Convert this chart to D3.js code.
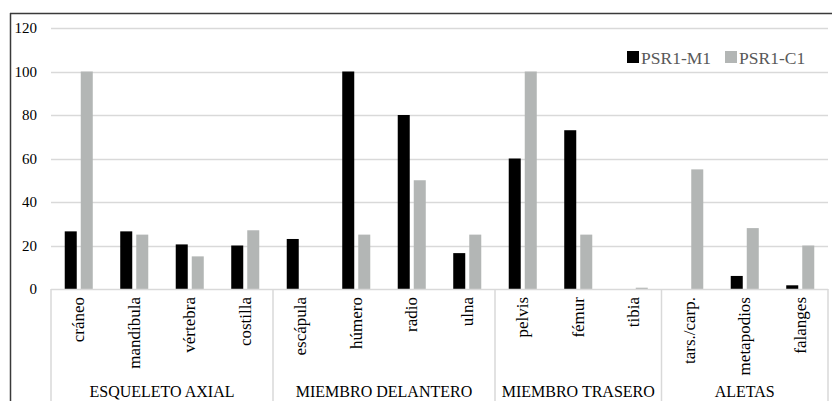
<!DOCTYPE html>
<html><head><meta charset="utf-8">
<script src="https://cdn.jsdelivr.net/npm/d3@7/dist/d3.min.js"></script>
<style>body{margin:0;background:#fff;} svg{display:block;} svg text{font-family:'Liberation Serif','Times New Roman',serif !important;}</style>
</head><body><svg id="c" width="832" height="401"></svg>
<script>
const categories = ["cráneo","mandíbula","vértebra","costilla","escápula","húmero","radio","ulna","pelvis","fémur","tibia","tars./carp.","metapodios","falanges"];
const groups = [
  {name:"ESQUELETO AXIAL", from:0, to:3},
  {name:"MIEMBRO DELANTERO", from:4, to:7},
  {name:"MIEMBRO TRASERO", from:8, to:10},
  {name:"ALETAS", from:11, to:13}
];
const seriesNames = ["PSR1-M1","PSR1-C1"];
const seriesColors = ["#000000","#b3b6b5"];
const valuesM1 = [26.5, 26.5, 20.5, 20, 23, 100, 80, 16.5, 60, 73, 0, 0, 6, 1.7];
const valuesC1 = [100, 25, 15, 27, 0, 25, 50, 25, 100, 25, 0.6, 55, 28, 20];
const yTicks = [0,20,40,60,80,100,120];

const FONT = "Liberation Serif";
const svg = d3.select("#c").attr("font-family", FONT);
const pLeft = 51, pRight = 828, pTop = 28, pBottom = 289;

const x = d3.scaleBand().domain(categories).range([pLeft, pRight]).paddingInner(0.495).paddingOuter(0.2475);
const xs = d3.scaleBand().domain(seriesNames).range([0, x.bandwidth()]).paddingInner(0.25);
const y = d3.scaleLinear().domain([0,120]).range([pBottom, pTop]);

// outer frame (top and left)
svg.append("line").attr("x1",10).attr("x2",832).attr("y1",13.5).attr("y2",13.5).attr("stroke","#3a3a3a").attr("stroke-width",1.5);
svg.append("line").attr("x1",10.5).attr("x2",10.5).attr("y1",13).attr("y2",401).attr("stroke","#3a3a3a").attr("stroke-width",1.5);

// gridlines
svg.append("g").selectAll("line").data(yTicks.filter(d=>d>0)).join("line")
  .attr("x1",pLeft).attr("x2",pRight)
  .attr("y1",d=>Math.round(y(d))+0.5).attr("y2",d=>Math.round(y(d))+0.5)
  .attr("stroke","#d9d9d9").attr("stroke-width",1.5);

// y axis labels
const yAxis = d3.axisLeft(y).tickValues(yTicks).tickSize(0).tickPadding(0);
const ga = svg.append("g").attr("transform",`translate(37,0)`).call(yAxis).attr("font-family",FONT).attr("font-size",15);
ga.select(".domain").remove();
ga.selectAll("text").attr("fill","#000");

// bars
const data = categories.map((c,i)=>({cat:c, vals:[valuesM1[i], valuesC1[i]]}));
svg.append("g").selectAll("g").data(data).join("g")
  .attr("transform",d=>`translate(${x(d.cat)},0)`)
  .selectAll("rect").data(d=>d.vals.map((v,j)=>({v, s:seriesNames[j], c:seriesColors[j]}))).join("rect")
  .attr("x",d=>xs(d.s)).attr("width",xs.bandwidth())
  .attr("y",d=>y(d.v)).attr("height",d=>pBottom-y(d.v))
  .attr("fill",d=>d.c);

// baseline
svg.append("line").attr("x1",pLeft).attr("x2",pRight).attr("y1",pBottom+0.5).attr("y2",pBottom+0.5).attr("stroke","#d9d9d9").attr("stroke-width",1.5);

// category labels
const step = x.step();
svg.append("g").selectAll("text").data(categories).join("text")
  .attr("transform",d=>`translate(${x(d)+x.bandwidth()/2+5.5},297) rotate(-90)`)
  .attr("text-anchor","end").attr("font-size","17px").attr("fill","#000")
  .text(d=>d);

// group separators
const seps = [0].concat(groups.map(g=>g.to+1));
svg.append("g").selectAll("line").data(seps).join("line")
  .attr("x1",i=>pLeft + i*step).attr("x2",i=>pLeft + i*step)
  .attr("y1",pBottom).attr("y2",401)
  .attr("stroke","#d9d9d9").attr("stroke-width",1.5);

// group labels
svg.append("g").selectAll("text").data(groups).join("text")
  .attr("x",g=>pLeft + (g.from + (g.to-g.from+1)/2)*step)
  .attr("y",397).attr("text-anchor","middle").attr("font-size","16px").attr("fill","#000")
  .text(g=>g.name);

// legend
const leg = svg.append("g");
const legX = [627, 725];
seriesNames.forEach((s,i)=>{
  leg.append("rect").attr("x",legX[i]).attr("y",51).attr("width",12).attr("height",12).attr("fill",seriesColors[i]);
  leg.append("text").attr("x",legX[i]+14).attr("y",63.5).attr("font-size","17.5px").attr("fill","#595959").text(s);
});
</script></body></html>
